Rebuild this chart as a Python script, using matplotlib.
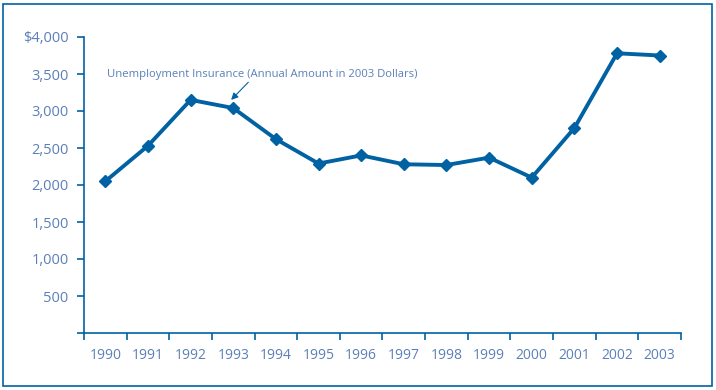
import matplotlib
matplotlib.use('Agg')
import matplotlib.pyplot as plt
from matplotlib.patches import Rectangle

years = ['1990', '1991', '1992', '1993', '1994', '1995', '1996',
         '1997', '1998', '1999', '2000', '2001', '2002', '2003']
amount = [2050, 2530, 3150, 3040, 2620, 2290, 2400,
          2280, 2270, 2370, 2100, 2770, 3780, 3750]
yticks = [0, 500, 1000, 1500, 2000, 2500, 3000, 3500, 4000]
ylabels = ['', '500', '1,000', '1,500', '2,000', '2,500', '3,000', '3,500', '$4,000']

line_c = '#0062a3'
text_c = '#5b80b8'

plt.rcParams['font.family'] = ['Open Sans', 'DejaVu Sans']

fig = plt.figure(figsize=(7.16, 3.9), dpi=100)
fig.patches.append(Rectangle((3/716, 4/390), 709/716, 382/390, transform=fig.transFigure,
                             fill=False, edgecolor=line_c, linewidth=1.2))

ax = fig.add_axes([84/716, 1 - 333/390, (681 - 84)/716, (333 - 37)/390])
x = list(range(len(years)))
ax.plot(x, amount, color=line_c, linewidth=2.8, marker='D', markersize=6.5,
        markeredgecolor=line_c, markerfacecolor=line_c)

ax.set_xlim(-0.5, len(years) - 0.5)
ax.set_ylim(0, 4000)
ax.set_yticks(yticks)
ax.set_yticklabels(ylabels)
ax.set_xticks([i - 0.5 for i in range(len(years) + 1)])
ax.set_xticklabels([])
ax.set_xticks(x, minor=True)
ax.set_xticklabels(years, minor=True)
ax.tick_params(axis='x', which='minor', length=0, pad=11, labelsize=10, labelcolor=text_c)
ax.tick_params(axis='x', which='major', length=5, width=1.2, color=line_c)
ax.tick_params(axis='y', length=5, width=1.2, color=line_c, labelsize=10.5, labelcolor=text_c, pad=6)

for s in ['top', 'right']:
    ax.spines[s].set_visible(False)
for s in ['left', 'bottom']:
    ax.spines[s].set_color(line_c)
    ax.spines[s].set_linewidth(1.2)

ax.annotate('Unemployment Insurance (Annual Amount in 2003 Dollars)',
            xy=(3 - 0.05, 3040 + 110), xytext=(0.03, 3500),
            fontsize=8.1, color=text_c, va='center', ha='left',
            arrowprops=dict(arrowstyle='-|>,head_length=0.5,head_width=0.25',
                            color=line_c, lw=0.8, shrinkA=0, shrinkB=0,
                            relpos=(0.465, 0.0)))

fig.savefig('out.png', dpi=100)
